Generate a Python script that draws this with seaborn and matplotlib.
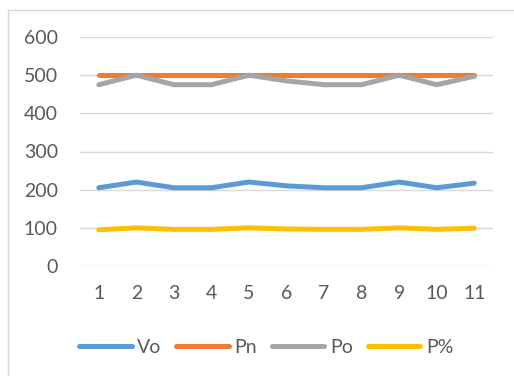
import matplotlib

matplotlib.use("Agg")
import matplotlib.pyplot as plt
import pandas as pd
import seaborn as sns
from matplotlib.patches import Rectangle

# values
points = list(range(1, 12))
vo = [205, 220, 205, 205, 220, 210, 205, 205, 220, 205, 217]
pn = [500, 500, 500, 500, 500, 500, 500, 500, 500, 500, 500]
po = [475, 500, 475, 475, 500, 485, 475, 475, 500, 475, 497]
p_pct = [95, 100, 96, 96, 100, 97, 96, 96, 100, 96, 99]
series_names = ["Vo", "Pn", "Po", "P%"]
colors = ["#5B9BD5", "#ED7D31", "#A5A5A5", "#FFC000"]

df = pd.concat(
    [
        pd.DataFrame({"x": points, "value": vals, "series": name})
        for name, vals in zip(series_names, [vo, pn, po, p_pct])
    ],
    ignore_index=True,
)

sns.set_theme(style="white")
plt.rcParams["font.family"] = ["Lato", "DejaVu Sans"]

fig = plt.figure(figsize=(5.14, 3.76), dpi=100)
ax = fig.add_axes([80 / 514, 1 - 266 / 376, 413 / 514, 229 / 376])

sns.lineplot(
    data=df,
    x="x",
    y="value",
    hue="series",
    hue_order=series_names,
    palette=colors,
    linewidth=3.6,
    solid_capstyle="round",
    legend=False,
    ax=ax,
)

ax.set_xlim(0.5, 11.5)
ax.set_ylim(0, 600)
ax.set_xticks(points)
ax.set_yticks(range(0, 601, 100))
ax.set_xlabel("")
ax.set_ylabel("")
ax.yaxis.grid(True, color="#D9D9D9", linewidth=1.0)
ax.set_axisbelow(True)
for s in ax.spines.values():
    s.set_visible(False)
ax.tick_params(axis="both", length=0, labelsize=14, colors="#595959")
ax.tick_params(axis="y", pad=16)
ax.tick_params(axis="x", pad=14)

handles = [
    plt.Line2D([0], [0], color=c, linewidth=3.6, solid_capstyle="round")
    for c in colors
]
fig.legend(
    handles,
    series_names,
    loc="center",
    bbox_to_anchor=(0.518, 0.077),
    ncol=4,
    frameon=False,
    fontsize=14,
    labelcolor="#595959",
    handlelength=2.7,
    handletextpad=0.3,
    columnspacing=0.75,
)

# outer chart border (cropped on the right and bottom in the reference)
fig.patches.append(
    Rectangle(
        (8 / 514, -0.1),
        1.2,
        1.1 - 10 / 376,
        transform=fig.transFigure,
        fill=False,
        edgecolor="#D9D9D9",
        linewidth=1.0,
    )
)

fig.savefig("out.png", dpi=100)
